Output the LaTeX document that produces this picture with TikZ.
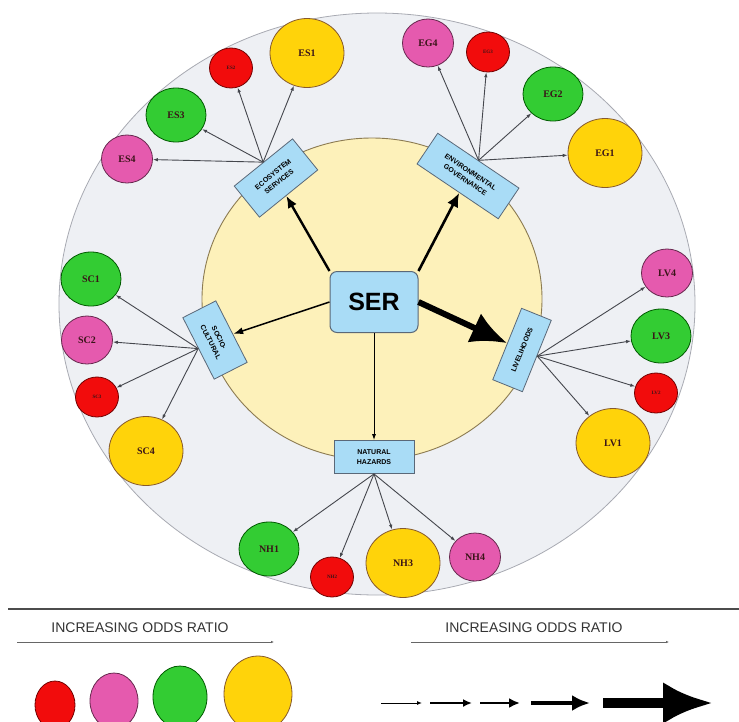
\documentclass[tikz,border=0pt]{standalone}
\usepackage{fontspec}
\setmainfont{Liberation Serif}
\setsansfont{Liberation Sans}
\usepackage{tikz}
\usetikzlibrary{shapes.geometric,arrows.meta}

\definecolor{ringgray}{HTML}{EEF0F4}
\definecolor{ringline}{HTML}{A8AAB2}
\definecolor{coreyellow}{HTML}{FDF1BA}
\definecolor{coreline}{HTML}{8C7B52}
\definecolor{boxblue}{HTML}{A9DCF6}
\definecolor{boxline}{HTML}{5A6878}
\definecolor{oddsred}{HTML}{F20C0C}
\definecolor{oddspink}{HTML}{E55AAE}
\definecolor{oddsgreen}{HTML}{33CC33}
\definecolor{oddsyellow}{HTML}{FFD30A}
\definecolor{spokegray}{HTML}{45474D}
\definecolor{labeltext}{HTML}{3A1418}

\begin{document}
\begin{tikzpicture}[
    x=1pt, y=-1pt,
    >={Latex[length=5pt,width=3.5pt]},
    catbox/.style={draw=boxline, fill=boxblue, line width=0.8pt, align=center,
        inner sep=1pt, font=\sffamily\bfseries\fontsize{7}{9.5}\selectfont},
    odds/.style={ellipse, line width=0.8pt, inner sep=0pt, text=labeltext,
        font=\bfseries\fontsize{10}{10}\selectfont},
    oddsr/.style={odds, fill=oddsred, draw=red!45!black,
        minimum width=43pt, minimum height=40pt, font=\bfseries\fontsize{5}{5}\selectfont},
    oddsp/.style={odds, fill=oddspink, draw=oddspink!45!black,
        minimum width=51pt, minimum height=48pt},
    oddsg/.style={odds, fill=oddsgreen, draw=green!35!black,
        minimum width=60pt, minimum height=54pt},
    oddsy/.style={odds, fill=oddsyellow, draw=brown!70!black,
        minimum width=74pt, minimum height=69pt},
    spoke/.style={->, draw=spokegray, line width=0.9pt}
]
\useasboundingbox (0,0) rectangle (739,721);

% Rings
\draw[fill=ringgray, draw=ringline, line width=0.8pt] (377,304) ellipse [x radius=318pt, y radius=291pt];
\draw[fill=coreyellow, draw=coreline, line width=0.9pt] (372,299) ellipse [x radius=170pt, y radius=161pt];

% Centre and themes
\node[draw=boxline, fill=boxblue, rounded corners=7pt, line width=1pt,
    minimum width=88pt, minimum height=61pt,
    font=\sffamily\bfseries\fontsize{25}{25}\selectfont] (ser) at (374,302) {SER};

\node[catbox, rotate=39, minimum width=75pt, minimum height=40pt] (es) at (276,178) {ECOSYSTEM\\SERVICES};
\node[catbox, rotate=-34, minimum width=98pt, minimum height=37pt] (eg) at (468,176) {ENVIRONMENTAL\\GOVERNANCE};
\node[catbox, rotate=-63, minimum width=69pt, minimum height=37pt] (sc) at (215,340) {SOCIO-\\CULTURAL};
\node[catbox, rotate=68, minimum width=77pt, minimum height=32pt] (lv) at (522,350) {LIVELIHOODS};
\node[catbox, minimum width=80pt, minimum height=33pt] (nh) at (374,457) {NATURAL\\HAZARDS};

% Arrows from SER
\draw[->, line width=2.4pt, >={Latex[length=12pt,width=10pt]}] (ser.north west) -- (es);
\draw[->, line width=2.6pt, >={Latex[length=14pt,width=12pt]}] (ser.north east) -- (eg);
\draw[->, line width=1.5pt, >={Latex[length=10pt,width=7pt]}] (ser.west) -- (sc);
\draw[->, line width=6pt, >={Latex[length=36pt,width=32pt]}] (ser.east) -- (lv);
\draw[->, line width=0.9pt, >={Latex[length=6pt,width=4pt]}] (ser.south) -- (nh);

% Ecosystem services
\node[oddsy] (es1) at (307,53) {ES1};
\node[oddsr] (es2) at (231,68) {ES2};
\node[oddsg] (es3) at (176,115) {ES3};
\node[oddsp] (es4) at (127,159) {ES4};
\draw[spoke] (es.north) -- (es1);
\draw[spoke] (es.north) -- (es2);
\draw[spoke] (es.north) -- (es3);
\draw[spoke] (es.north) -- (es4);

% Environmental governance
\node[oddsp] (eg4) at (428,43) {EG4};
\node[oddsr] (eg3) at (488,52) {EG3};
\node[oddsg] (eg2) at (553,94) {EG2};
\node[oddsy] (eg1) at (605,153) {EG1};
\draw[spoke] (eg.north) -- (eg4);
\draw[spoke] (eg.north) -- (eg3);
\draw[spoke] (eg.north) -- (eg2);
\draw[spoke] (eg.north) -- (eg1);

% Socio-cultural
\node[oddsg] (sc1) at (91,279) {SC1};
\node[oddsp] (sc2) at (87,340) {SC2};
\node[oddsr] (sc3) at (97,397) {SC3};
\node[oddsy] (sc4) at (146,451) {SC4};
\draw[spoke] (sc.south) -- (sc1);
\draw[spoke] (sc.south) -- (sc2);
\draw[spoke] (sc.south) -- (sc3);
\draw[spoke] (sc.south) -- (sc4);

% Livelihoods
\node[oddsp] (lv4) at (667,273) {LV4};
\node[oddsg] (lv3) at (661,336) {LV3};
\node[oddsr] (lv2) at (656,393) {LV2};
\node[oddsy] (lv1) at (613,443) {LV1};
\draw[spoke] (lv.south) -- (lv4);
\draw[spoke] (lv.south) -- (lv3);
\draw[spoke] (lv.south) -- (lv2);
\draw[spoke] (lv.south) -- (lv1);

% Natural hazards
\node[oddsg] (nh1) at (269,549) {NH1};
\node[oddsr] (nh2) at (332,577) {NH2};
\node[oddsy] (nh3) at (403,563) {NH3};
\node[oddsp] (nh4) at (475,557) {NH4};
\draw[spoke] (nh.south) -- (nh1);
\draw[spoke] (nh.south) -- (nh2);
\draw[spoke] (nh.south) -- (nh3);
\draw[spoke] (nh.south) -- (nh4);

% Legend
\draw[line width=1.5pt, black!70] (8,609) -- (739,609);
\node[font=\sffamily\fontsize{14}{14}\selectfont, text=black!80] (oddsl) at (140,628) {INCREASING ODDS RATIO};
\node[font=\sffamily\fontsize{14}{14}\selectfont, text=black!80] (oddsrt) at (534,628) {INCREASING ODDS RATIO};
\draw[->, black!60, line width=0.6pt, >={Latex[length=3pt,width=2.5pt]}] (17,642) -- (274,642);
\draw[->, black!60, line width=0.6pt, >={Latex[length=3pt,width=2.5pt]}] (411,642) -- (669,642);

\draw[fill=oddsred, draw=red!45!black, line width=0.8pt] (55,705) ellipse [x radius=20pt, y radius=24pt];
\draw[fill=oddspink, draw=oddspink!45!black, line width=0.8pt] (114,701) ellipse [x radius=24pt, y radius=28pt];
\draw[fill=oddsgreen, draw=green!35!black, line width=0.8pt] (180,697) ellipse [x radius=27pt, y radius=31pt];
\draw[fill=oddsyellow, draw=brown!70!black, line width=0.8pt] (258,694) ellipse [x radius=34pt, y radius=38pt];

\draw[->, line width=1pt, >={Latex[length=5pt,width=4pt]}] (381,703) -- (422,703);
\draw[->, line width=2pt, >={Latex[length=9pt,width=8pt]}] (430,703) -- (472,703);
\draw[->, line width=2.6pt, >={Latex[length=11pt,width=10pt]}] (480,703) -- (520,703);
\draw[->, line width=4pt, >={Latex[length=18pt,width=16pt]}] (531,703) -- (590,703);
\draw[->, line width=10pt, >={Latex[length=50pt,width=42pt]}] (603,703) -- (713,703);

\end{tikzpicture}
\end{document}
